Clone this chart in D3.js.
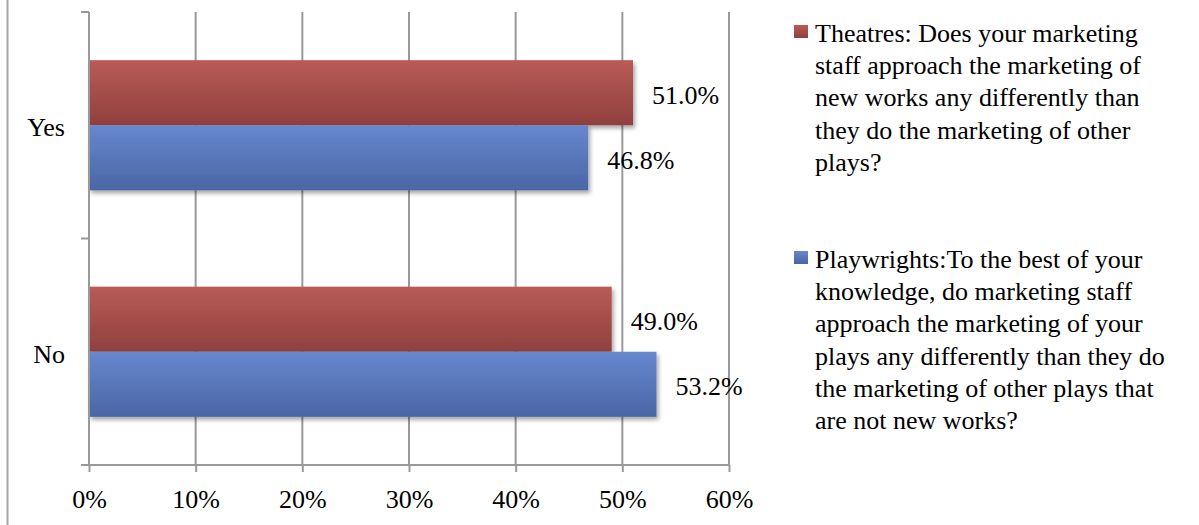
<!DOCTYPE html>
<html>
<head>
<meta charset="utf-8">
<script src="https://cdn.jsdelivr.net/npm/d3@7"></script>
<style>
  body { margin: 0; background: #fff; }
  text { font-family: "Liberation Serif", "Times New Roman", serif; fill: #000; }
</style>
</head>
<body>
<div id="chart"></div>
<script>
// survey answers, percent of respondents
const categories = ["Yes", "No"];
const seriesKeys = ["theatres", "playwrights"];
const theatres = [51.0, 49.0];
const playwrights = [46.8, 53.2];
const xTicks = [0, 10, 20, 30, 40, 50, 60];
const legendLines = [
    ["Theatres: Does your marketing", "staff approach the marketing of", "new works any differently than",
     "they do the marketing of other", "plays?"],
    ["Playwrights:To the best of your", "knowledge, do marketing staff", "approach the marketing of your",
     "plays any differently than they do", "the marketing of other plays that", "are not new works?"]
];

const values = { theatres: theatres, playwrights: playwrights };
const colors = {
    theatres: ["#BA5B57", "#8F403D"],
    playwrights: ["#6787CE", "#4A66A5"]
};

const width = 1199, height = 525;
const plotLeft = 89, plotRight = 729, plotTop = 12, plotBottom = 465;

const svg = d3.select("#chart")
    .append("svg")
    .attr("width", width)
    .attr("height", height);

const defs = svg.append("defs");
seriesKeys.forEach(k => {
    const g = defs.append("linearGradient")
        .attr("id", "grad-" + k)
        .attr("x1", 0).attr("y1", 0).attr("x2", 0).attr("y2", 1);
    g.append("stop").attr("offset", "0%").attr("stop-color", colors[k][0]);
    g.append("stop").attr("offset", "100%").attr("stop-color", colors[k][1]);
});
const shadow = defs.append("filter").attr("id", "shadow")
    .attr("x", "-5%").attr("y", "-10%").attr("width", "115%").attr("height", "130%");
shadow.append("feDropShadow")
    .attr("dx", 2).attr("dy", 3).attr("stdDeviation", 2)
    .attr("flood-color", "#000").attr("flood-opacity", 0.35);

const x = d3.scaleLinear().domain([0, 60]).range([plotLeft, plotRight]);
const y = d3.scaleBand().domain(categories).range([plotTop, plotBottom]);
const yInner = d3.scaleBand().domain(seriesKeys).range([0, y.bandwidth()]).paddingOuter(0.74);

// outer frame edge
svg.append("line")
    .attr("x1", 7.5).attr("x2", 7.5).attr("y1", 0).attr("y2", height)
    .attr("stroke", "#a6a6a6").attr("stroke-width", 2);

// vertical gridlines
svg.append("g")
    .selectAll("line")
    .data(xTicks.slice(1))
    .join("line")
    .attr("x1", d => x(d)).attr("x2", d => x(d))
    .attr("y1", plotTop).attr("y2", plotBottom)
    .attr("stroke", "#999").attr("stroke-width", 2);

// bars
const groups = svg.append("g")
    .selectAll("g")
    .data(categories)
    .join("g")
    .attr("transform", d => `translate(0,${y(d)})`);

groups.selectAll("rect")
    .data((c, i) => seriesKeys.map(k => ({ key: k, value: values[k][i] })))
    .join("rect")
    .attr("x", x(0))
    .attr("y", d => yInner(d.key))
    .attr("width", d => x(d.value) - x(0))
    .attr("height", yInner.bandwidth())
    .attr("fill", d => `url(#grad-${d.key})`)
    .attr("filter", "url(#shadow)");

groups.selectAll("text.val")
    .data((c, i) => seriesKeys.map(k => ({ key: k, value: values[k][i] })))
    .join("text")
    .attr("class", "val")
    .attr("x", d => x(d.value) + 19)
    .attr("y", d => yInner(d.key) + yInner.bandwidth() / 2 + 11)
    .style("font-size", "26px")
    .text(d => d.value.toFixed(1) + "%");

// y axis with category boundary ticks
svg.append("line")
    .attr("x1", plotLeft).attr("x2", plotLeft).attr("y1", plotTop).attr("y2", plotBottom)
    .attr("stroke", "#999").attr("stroke-width", 2);
svg.append("g")
    .selectAll("line")
    .data([plotTop, plotTop + y.step(), plotBottom])
    .join("line")
    .attr("x1", plotLeft - 8).attr("x2", plotLeft)
    .attr("y1", d => d).attr("y2", d => d)
    .attr("stroke", "#999").attr("stroke-width", 2);

svg.append("g")
    .selectAll("text")
    .data(categories)
    .join("text")
    .attr("x", 65)
    .attr("y", d => y(d) + y.bandwidth() / 2 + 11)
    .attr("text-anchor", "end")
    .style("font-size", "26px")
    .text(d => d);

// x axis
const xAxis = svg.append("g")
    .attr("transform", `translate(0,${plotBottom})`)
    .call(d3.axisBottom(x).tickValues(xTicks).tickFormat(d => d + "%").tickSize(7).tickSizeOuter(0));
xAxis.select(".domain").remove();
xAxis.append("line")
    .attr("x1", plotLeft - 8).attr("x2", plotRight).attr("y1", 0).attr("y2", 0)
    .attr("stroke", "#999").attr("stroke-width", 2);
xAxis.selectAll(".tick line").attr("stroke", "#999").attr("stroke-width", 2);
xAxis.selectAll(".tick text")
    .attr("y", 43).attr("dy", null)
    .style("font-size", "26px")
    .style("font-family", "'Liberation Serif', 'Times New Roman', serif")
    .attr("fill", "#000");

// legend
const legendTop = [42, 268];
const legend = svg.append("g")
    .selectAll("g")
    .data(seriesKeys)
    .join("g")
    .attr("transform", (d, i) => `translate(794,${legendTop[i]})`);

legend.append("rect")
    .attr("x", 0).attr("y", -17)
    .attr("width", 14).attr("height", 13)
    .attr("fill", d => `url(#grad-${d})`);

legend.append("text")
    .attr("x", 21)
    .style("font-size", "26px")
    .selectAll("tspan")
    .data((d, i) => legendLines[i])
    .join("tspan")
    .attr("x", 21)
    .attr("y", (d, i) => i * 32.2)
    .text(d => d);
</script>
</body>
</html>
